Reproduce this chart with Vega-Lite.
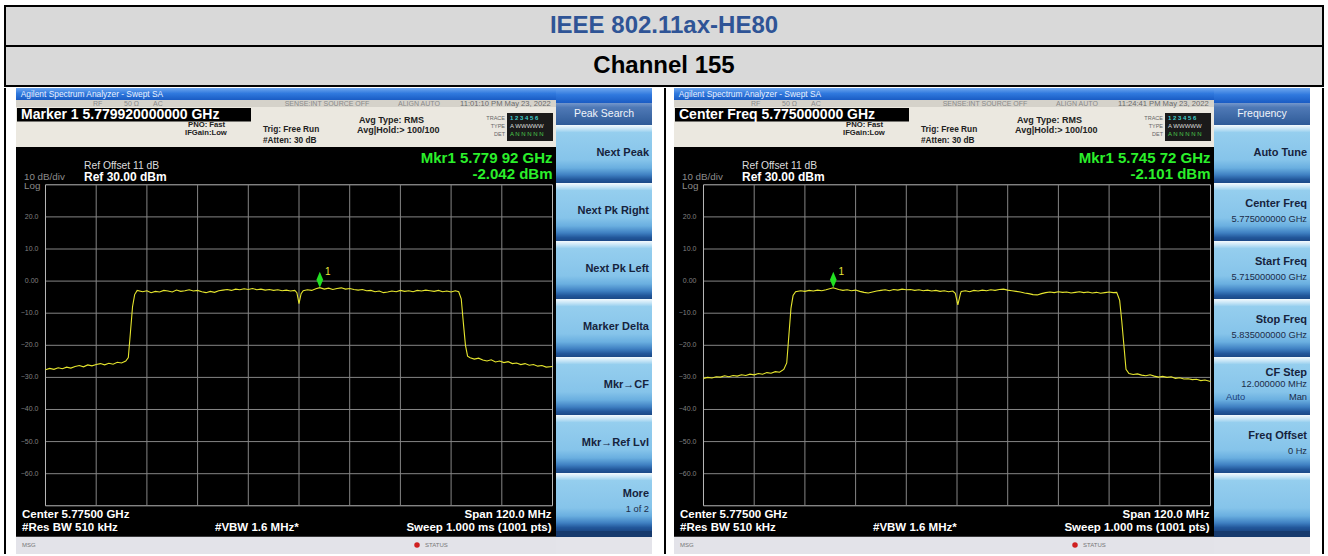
{
"$schema":"https://vega.github.io/schema/vega-lite/v6.json",
"padding":{"left":4,"top":5,"right":4,"bottom":2},
"background":"#ffffff",
"bounds":"full",
"spacing":1,
"config":{"font":"Liberation Sans","axis":{"disable":true},"legend":{"disable":true},"view":{"stroke":null}},
"datasets":{
"header":[{"table":"report","row":"IEEE 802.11ax-HE80","kind":"standard"},{"table":"report","row":"Channel 155","kind":"channel"}],
"infoL":[{"analyzer":"Agilent Spectrum Analyzer - Swept SA","readout":"Marker 1 5.779920000000 GHz","mkr_freq":"Mkr1 5.779 92 GHz","mkr_level":"-2.042 dBm","time":"11:01:10 PM May 23, 2022","center":"Center 5.77500 GHz","span":"Span 120.0 MHz","rbw":"#Res BW 510 kHz","vbw":"#VBW 1.6 MHz*","sweep":"Sweep  1.000 ms (1001 pts)","ref_offset":"Ref Offset 11 dB","ref_level":"Ref 30.00 dBm","scale":"10 dB/div","log":"Log"}],
"infoR":[{"analyzer":"Agilent Spectrum Analyzer - Swept SA","readout":"Center Freq 5.775000000 GHz","mkr_freq":"Mkr1 5.745 72 GHz","mkr_level":"-2.101 dBm","time":"11:24:41 PM May 23, 2022","center":"Center 5.77500 GHz","span":"Span 120.0 MHz","rbw":"#Res BW 510 kHz","vbw":"#VBW 1.6 MHz*","sweep":"Sweep  1.000 ms (1001 pts)","ref_offset":"Ref Offset 11 dB","ref_level":"Ref 30.00 dBm","scale":"10 dB/div","log":"Log"}],
"markerL":[{"f":5.77992,"p":-2.042,"n":"1"}],
"markerR":[{"f":5.74572,"p":-2.101,"n":"1"}],
"hgrid":[{"level":30},{"level":20},{"level":10},{"level":0},{"level":-10},{"level":-20},{"level":-30},{"level":-40},{"level":-50},{"level":-60},{"level":-70}],
"vgrid":[{"freq":5.715},{"freq":5.727},{"freq":5.739},{"freq":5.751},{"freq":5.763},{"freq":5.775},{"freq":5.787},{"freq":5.799},{"freq":5.811},{"freq":5.823},{"freq":5.835}],
"menuL":[{"menu":"Peak Search"}],
"menuR":[{"menu":"Frequency"}],
"keysL":[{"key":"Next Peak"},{"key":"Next Pk Right"},{"key":"Next Pk Left"},{"key":"Marker Delta"},{"key":"Mkr→CF"},{"key":"Mkr→Ref Lvl"},{"key":"More","sub":"1 of 2"}],
"keysR":[{"key":"Auto Tune"},{"key":"Center Freq","sub":"5.775000000 GHz"},{"key":"Start Freq","sub":"5.715000000 GHz"},{"key":"Stop Freq","sub":"5.835000000 GHz"},{"key":"CF Step","sub":"12.000000 MHz","opt":"Auto","opt2":"Man"},{"key":"Freq Offset","sub":"0 Hz"},{"key":" "}],
"traceL":[{"f":5.715,"p":-27.6},{"f":5.716,"p":-27.2},{"f":5.717,"p":-27.5},{"f":5.718,"p":-27.0},{"f":5.719,"p":-27.3},{"f":5.72,"p":-26.8},{"f":5.721,"p":-27.1},{"f":5.722,"p":-26.6},{"f":5.723,"p":-26.3},{"f":5.724,"p":-26.7},{"f":5.725,"p":-26.1},{"f":5.726,"p":-26.4},{"f":5.727,"p":-26.0},{"f":5.728,"p":-25.7},{"f":5.729,"p":-26.1},{"f":5.73,"p":-25.6},{"f":5.731,"p":-25.9},{"f":5.732,"p":-25.3},{"f":5.733,"p":-25.5},{"f":5.734,"p":-24.9},{"f":5.7346,"p":-23.8},{"f":5.7351,"p":-16.0},{"f":5.7356,"p":-8.0},{"f":5.7361,"p":-4.2},{"f":5.7367,"p":-2.9},{"f":5.738,"p":-3.3},{"f":5.739,"p":-3.0},{"f":5.74,"p":-3.6},{"f":5.741,"p":-3.2},{"f":5.742,"p":-3.4},{"f":5.743,"p":-2.9},{"f":5.744,"p":-3.1},{"f":5.745,"p":-3.4},{"f":5.746,"p":-2.8},{"f":5.747,"p":-3.2},{"f":5.748,"p":-3.0},{"f":5.749,"p":-2.7},{"f":5.75,"p":-3.1},{"f":5.751,"p":-2.9},{"f":5.752,"p":-3.3},{"f":5.753,"p":-3.6},{"f":5.754,"p":-3.2},{"f":5.755,"p":-3.5},{"f":5.756,"p":-3.0},{"f":5.757,"p":-2.8},{"f":5.758,"p":-2.6},{"f":5.759,"p":-2.9},{"f":5.76,"p":-2.5},{"f":5.761,"p":-2.7},{"f":5.762,"p":-2.4},{"f":5.763,"p":-2.6},{"f":5.764,"p":-2.3},{"f":5.765,"p":-2.7},{"f":5.766,"p":-2.5},{"f":5.767,"p":-2.8},{"f":5.768,"p":-2.6},{"f":5.769,"p":-2.9},{"f":5.77,"p":-2.7},{"f":5.771,"p":-3.0},{"f":5.772,"p":-2.8},{"f":5.773,"p":-3.1},{"f":5.774,"p":-2.9},{"f":5.7745,"p":-3.6},{"f":5.775,"p":-7.0},{"f":5.7755,"p":-3.9},{"f":5.776,"p":-3.0},{"f":5.777,"p":-2.7},{"f":5.778,"p":-2.9},{"f":5.779,"p":-2.4},{"f":5.7799,"p":-2.04},{"f":5.781,"p":-2.5},{"f":5.782,"p":-2.2},{"f":5.783,"p":-2.6},{"f":5.784,"p":-2.3},{"f":5.785,"p":-2.1},{"f":5.786,"p":-2.5},{"f":5.787,"p":-2.3},{"f":5.788,"p":-2.6},{"f":5.789,"p":-2.8},{"f":5.79,"p":-2.6},{"f":5.791,"p":-3.0},{"f":5.792,"p":-2.9},{"f":5.793,"p":-3.3},{"f":5.794,"p":-3.1},{"f":5.795,"p":-3.6},{"f":5.796,"p":-3.4},{"f":5.797,"p":-3.1},{"f":5.798,"p":-3.3},{"f":5.799,"p":-2.9},{"f":5.8,"p":-3.2},{"f":5.801,"p":-3.0},{"f":5.802,"p":-3.3},{"f":5.803,"p":-2.9},{"f":5.804,"p":-3.1},{"f":5.805,"p":-2.8},{"f":5.806,"p":-3.0},{"f":5.807,"p":-3.2},{"f":5.808,"p":-2.9},{"f":5.809,"p":-3.3},{"f":5.81,"p":-3.1},{"f":5.811,"p":-3.4},{"f":5.812,"p":-3.0},{"f":5.8128,"p":-3.3},{"f":5.8134,"p":-5.5},{"f":5.8139,"p":-13.0},{"f":5.8144,"p":-20.0},{"f":5.8149,"p":-23.4},{"f":5.8155,"p":-23.9},{"f":5.8165,"p":-24.3},{"f":5.8175,"p":-24.0},{"f":5.8185,"p":-24.6},{"f":5.8195,"p":-24.9},{"f":5.8205,"p":-24.5},{"f":5.8215,"p":-25.2},{"f":5.8225,"p":-24.9},{"f":5.8235,"p":-25.4},{"f":5.8245,"p":-25.1},{"f":5.8255,"p":-25.7},{"f":5.8265,"p":-25.5},{"f":5.8275,"p":-26.0},{"f":5.8285,"p":-25.7},{"f":5.8295,"p":-26.2},{"f":5.8305,"p":-26.0},{"f":5.8315,"p":-26.5},{"f":5.8325,"p":-26.3},{"f":5.8335,"p":-26.8},{"f":5.835,"p":-26.6}],
"traceR":[{"f":5.715,"p":-30.3},{"f":5.716,"p":-30.0},{"f":5.717,"p":-30.2},{"f":5.718,"p":-29.8},{"f":5.719,"p":-29.9},{"f":5.72,"p":-29.5},{"f":5.721,"p":-29.8},{"f":5.722,"p":-29.4},{"f":5.723,"p":-29.6},{"f":5.724,"p":-29.2},{"f":5.725,"p":-29.4},{"f":5.726,"p":-29.0},{"f":5.727,"p":-29.2},{"f":5.728,"p":-28.8},{"f":5.729,"p":-29.0},{"f":5.73,"p":-28.5},{"f":5.731,"p":-28.7},{"f":5.732,"p":-28.2},{"f":5.733,"p":-28.4},{"f":5.734,"p":-27.5},{"f":5.7347,"p":-25.5},{"f":5.7352,"p":-17.0},{"f":5.7357,"p":-8.5},{"f":5.7362,"p":-4.5},{"f":5.7368,"p":-3.3},{"f":5.738,"p":-3.0},{"f":5.739,"p":-3.2},{"f":5.74,"p":-2.9},{"f":5.741,"p":-3.1},{"f":5.742,"p":-2.8},{"f":5.743,"p":-3.0},{"f":5.744,"p":-2.7},{"f":5.7457,"p":-2.1},{"f":5.747,"p":-2.6},{"f":5.748,"p":-2.9},{"f":5.749,"p":-2.7},{"f":5.75,"p":-3.0},{"f":5.751,"p":-2.8},{"f":5.752,"p":-3.2},{"f":5.753,"p":-3.5},{"f":5.754,"p":-3.7},{"f":5.755,"p":-3.4},{"f":5.756,"p":-3.1},{"f":5.757,"p":-2.9},{"f":5.758,"p":-2.7},{"f":5.759,"p":-3.0},{"f":5.76,"p":-2.6},{"f":5.761,"p":-2.8},{"f":5.762,"p":-2.5},{"f":5.763,"p":-2.7},{"f":5.764,"p":-2.6},{"f":5.765,"p":-2.9},{"f":5.766,"p":-2.7},{"f":5.767,"p":-3.0},{"f":5.768,"p":-2.8},{"f":5.769,"p":-3.1},{"f":5.77,"p":-2.9},{"f":5.771,"p":-3.2},{"f":5.772,"p":-3.0},{"f":5.773,"p":-3.3},{"f":5.774,"p":-3.1},{"f":5.7746,"p":-3.8},{"f":5.7752,"p":-7.4},{"f":5.7758,"p":-4.0},{"f":5.776,"p":-3.2},{"f":5.777,"p":-3.0},{"f":5.778,"p":-3.3},{"f":5.779,"p":-2.9},{"f":5.78,"p":-3.1},{"f":5.781,"p":-2.8},{"f":5.782,"p":-3.0},{"f":5.783,"p":-2.7},{"f":5.784,"p":-2.9},{"f":5.785,"p":-2.6},{"f":5.786,"p":-2.5},{"f":5.787,"p":-2.8},{"f":5.788,"p":-3.0},{"f":5.789,"p":-3.2},{"f":5.79,"p":-3.4},{"f":5.791,"p":-3.7},{"f":5.792,"p":-3.9},{"f":5.793,"p":-4.2},{"f":5.794,"p":-4.3},{"f":5.795,"p":-3.9},{"f":5.796,"p":-3.6},{"f":5.797,"p":-3.4},{"f":5.798,"p":-3.6},{"f":5.799,"p":-3.3},{"f":5.8,"p":-3.5},{"f":5.801,"p":-3.4},{"f":5.802,"p":-3.7},{"f":5.803,"p":-3.5},{"f":5.804,"p":-3.3},{"f":5.805,"p":-3.6},{"f":5.806,"p":-3.4},{"f":5.807,"p":-3.7},{"f":5.808,"p":-3.5},{"f":5.809,"p":-3.8},{"f":5.81,"p":-3.6},{"f":5.811,"p":-3.4},{"f":5.812,"p":-3.6},{"f":5.8128,"p":-3.5},{"f":5.8135,"p":-6.0},{"f":5.814,"p":-12.5},{"f":5.8145,"p":-20.0},{"f":5.815,"p":-27.5},{"f":5.8157,"p":-28.8},{"f":5.8167,"p":-29.1},{"f":5.8177,"p":-28.9},{"f":5.8187,"p":-29.3},{"f":5.8197,"p":-29.5},{"f":5.8207,"p":-29.2},{"f":5.8217,"p":-29.6},{"f":5.8227,"p":-29.9},{"f":5.8237,"p":-29.7},{"f":5.8247,"p":-30.0},{"f":5.8257,"p":-29.8},{"f":5.8267,"p":-30.3},{"f":5.8277,"p":-30.1},{"f":5.8287,"p":-30.5},{"f":5.8297,"p":-30.4},{"f":5.8307,"p":-30.7},{"f":5.8317,"p":-30.6},{"f":5.8327,"p":-31.0},{"f":5.8337,"p":-30.8},{"f":5.835,"p":-31.3}]
},
"vconcat":[
{"width":1320,"height":82,"view":{"fill":"#000000","stroke":null},"data":{"name":"header"},
 "encoding":{"x":{"field":"table","type":"nominal","scale":{"paddingOuter":0.00152,"paddingInner":0}},"y":{"field":"row","type":"nominal","sort":null,"scale":{"paddingInner":0.05,"paddingOuter":0.05}}},
 "layer":[
  {"mark":{"type":"rect","fill":"#d9d9d9"}},
  {"mark":{"type":"text","fontSize":24,"fontWeight":"bold","baseline":"middle"},"encoding":{"text":{"field":"row"},"color":{"field":"kind","type":"nominal","scale":{"domain":["standard","channel"],"range":["#2f5496","#000000"]}}}}
 ]},
{"hconcat":[
 {"width":2,"height":466,"data":{"values":[{"border":"table"}]},"mark":{"type":"rect","fill":"#000000"}},
 {"width":10,"height":466,"data":{"values":[{"border":"margin"}]},"mark":{"type":"rect","fill":"#ffffff"}},
 {"width":540,"height":466,"view":{"fill":"#000000","stroke":null},"data":{"name":"infoL"},
  "layer":[
   {"data":{"name":"hgrid"},"mark":{"type":"rule","strokeWidth":1},"encoding":{"y":{"field":"level","type":"quantitative"},"x":{"datum":5.715},"x2":{"datum":5.835},"color":{"condition":{"test":"datum.level === 30 || datum.level === -70","value":"#b8b8b8"},"value":"#858585"}}},
   {"data":{"name":"vgrid"},"mark":{"type":"rule","strokeWidth":1},"encoding":{"x":{"field":"freq","type":"quantitative"},"y":{"datum":-70},"y2":{"datum":30},"color":{"condition":{"test":"datum.freq < 5.716 || datum.freq > 5.834","value":"#b8b8b8"},"value":"#858585"}}},
   {"data":{"name":"hgrid"},"transform":[{"filter":"datum.level < 30 && datum.level > -70"}],"mark":{"type":"text","align":"right","baseline":"middle","fontSize":7,"color":"#808080"},"encoding":{"x":{"datum":5.713343},"y":{"field":"level","type":"quantitative"},"text":{"condition":{"test":"datum.level === 0","value":"0.00"},"field":"level","type":"quantitative","format":".1f"}}},
   {"data":{"name":"traceL"},"mark":{"type":"line","color":"#e6e62e","strokeWidth":1.1},"encoding":{"x":{"field":"f","type":"quantitative","scale":{"domain":[5.708018,5.835828],"nice":false,"zero":false}},"y":{"field":"p","type":"quantitative","scale":{"domain":[-85.02,60.16],"nice":false,"zero":false}}}},
   {"data":{"name":"markerL"},"mark":{"type":"point","shape":"M0,-2L0.42,-1L0,0L-0.42,-1Z","size":256,"filled":true,"color":"#22e022","opacity":1},"encoding":{"x":{"field":"f","type":"quantitative"},"y":{"field":"p","type":"quantitative"}}},
   {"data":{"name":"markerL"},"mark":{"type":"text","dx":8,"dy":-16,"fontSize":10,"color":"#e8e83a","baseline":"middle"},"encoding":{"x":{"field":"f","type":"quantitative"},"y":{"field":"p","type":"quantitative"},"text":{"field":"n"}}},
   {"mark":{"type":"rect","fill":{"gradient":"linear","x1":0,"y1":0,"x2":0,"y2":1,"stops":[{"offset":0,"color":"#6ea6ee"},{"offset":0.45,"color":"#3079de"},{"offset":1,"color":"#1a5cc4"}]}},"encoding":{"x":{"datum":5.708018},"x2":{"datum":5.835828},"y":{"datum":56.42},"y2":{"datum":60.16}}},
   {"mark":{"type":"rect","fill":"#d5d2ca"},"encoding":{"x":{"datum":5.708018},"x2":{"datum":5.835828},"y":{"datum":54.24},"y2":{"datum":56.42}}},
   {"mark":{"type":"rect","fill":"#ebe8e0"},"encoding":{"x":{"datum":5.708018},"x2":{"datum":5.835828},"y":{"datum":41.78},"y2":{"datum":54.24}}},
   {"mark":{"type":"rect","fill":"#e3e3e9"},"encoding":{"x":{"datum":5.708018},"x2":{"datum":5.835828},"y":{"datum":-85.02},"y2":{"datum":-79.62}}},
   {"mark":{"type":"rect","fill":"#000000"},"encoding":{"x":{"datum":5.708255},"x2":{"datum":5.763639},"y":{"datum":49.72},"y2":{"datum":53.93}}},
   {"mark":{"type":"rect","fill":"#1a1a1a"},"encoding":{"x":{"datum":5.824231},"x2":{"datum":5.835119},"y":{"datum":43.65},"y2":{"datum":52.37}}},
   {"mark":{"type":"text","align":"left","baseline":"middle","fontSize":8.4,"color":"#eaf1ff"},"encoding":{"x":{"datum":5.70913},"y":{"datum":58.29},"text":{"field":"analyzer"}}},
   {"mark":{"type":"text","align":"left","baseline":"middle","fontSize":7,"color":"#8a8a8a"},"encoding":{"x":{"datum":5.726243},"y":{"datum":55.33},"text":{"value":"RF"}}},
   {"mark":{"type":"text","align":"left","baseline":"middle","fontSize":7,"color":"#8a8a8a"},"encoding":{"x":{"datum":5.73358},"y":{"datum":55.33},"text":{"value":"50 Ω"}}},
   {"mark":{"type":"text","align":"left","baseline":"middle","fontSize":7,"color":"#8a8a8a"},"encoding":{"x":{"datum":5.740444},"y":{"datum":55.33},"text":{"value":"AC"}}},
   {"mark":{"type":"text","align":"left","baseline":"middle","fontSize":7,"color":"#8a8a8a"},"encoding":{"x":{"datum":5.771616},"y":{"datum":55.33},"text":{"value":"SENSE:INT  SOURCE OFF"}}},
   {"mark":{"type":"text","align":"left","baseline":"middle","fontSize":7,"color":"#8a8a8a"},"encoding":{"x":{"datum":5.798432},"y":{"datum":55.33},"text":{"value":"ALIGN AUTO"}}},
   {"mark":{"type":"text","align":"left","baseline":"middle","fontSize":7.6,"color":"#6a6a6a"},"encoding":{"x":{"datum":5.813107},"y":{"datum":55.33},"text":{"field":"time"}}},
   {"mark":{"type":"text","align":"left","baseline":"middle","fontSize":14,"fontWeight":"bold","color":"#ffffff"},"encoding":{"x":{"datum":5.709201},"y":{"datum":51.75},"text":{"field":"readout"}}},
   {"mark":{"type":"text","align":"left","baseline":"middle","fontSize":7.7,"fontWeight":"bold","color":"#222222"},"encoding":{"x":{"datum":5.748728},"y":{"datum":48.5},"text":{"value":"PNO: Fast"}}},
   {"mark":{"type":"text","align":"left","baseline":"middle","fontSize":7.7,"fontWeight":"bold","color":"#222222"},"encoding":{"x":{"datum":5.748018},"y":{"datum":46.0},"text":{"value":"IFGain:Low"}}},
   {"mark":{"type":"text","align":"left","baseline":"middle","fontSize":8.3,"fontWeight":"bold","color":"#222222"},"encoding":{"x":{"datum":5.76648},"y":{"datum":46.92},"text":{"value":"Trig: Free Run"}}},
   {"mark":{"type":"text","align":"left","baseline":"middle","fontSize":8.3,"fontWeight":"bold","color":"#222222"},"encoding":{"x":{"datum":5.76648},"y":{"datum":43.8},"text":{"value":"#Atten: 30 dB"}}},
   {"mark":{"type":"text","align":"left","baseline":"middle","fontSize":9,"fontWeight":"bold","color":"#222222"},"encoding":{"x":{"datum":5.789201},"y":{"datum":50.19},"text":{"value":"Avg Type: RMS"}}},
   {"mark":{"type":"text","align":"left","baseline":"middle","fontSize":9,"fontWeight":"bold","color":"#222222"},"encoding":{"x":{"datum":5.788728},"y":{"datum":47.08},"text":{"value":"Avg|Hold:> 100/100"}}},
   {"mark":{"type":"text","align":"right","baseline":"middle","fontSize":5.5,"color":"#666666"},"encoding":{"x":{"datum":5.823758},"y":{"datum":50.81},"text":{"value":"TRACE"}}},
   {"mark":{"type":"text","align":"right","baseline":"middle","fontSize":5.5,"color":"#666666"},"encoding":{"x":{"datum":5.823758},"y":{"datum":48.32},"text":{"value":"TYPE"}}},
   {"mark":{"type":"text","align":"right","baseline":"middle","fontSize":5.5,"color":"#666666"},"encoding":{"x":{"datum":5.823758},"y":{"datum":45.83},"text":{"value":"DET"}}},
   {"mark":{"type":"text","align":"left","baseline":"middle","fontSize":6,"fontWeight":"bold","color":"#3fd0d0"},"encoding":{"x":{"datum":5.824941},"y":{"datum":50.81},"text":{"value":"1 2 3 4 5 6"}}},
   {"mark":{"type":"text","align":"left","baseline":"middle","fontSize":6,"color":"#dddddd"},"encoding":{"x":{"datum":5.824941},"y":{"datum":48.32},"text":{"value":"A WWWWW"}}},
   {"mark":{"type":"text","align":"left","baseline":"middle","fontSize":6,"color":"#4ccc4c"},"encoding":{"x":{"datum":5.824941},"y":{"datum":45.83},"text":{"value":"A N N N N N"}}},
   {"mark":{"type":"text","align":"left","baseline":"middle","fontSize":10.3,"color":"#dcdcdc"},"encoding":{"x":{"datum":5.724113},"y":{"datum":35.86},"text":{"field":"ref_offset"}}},
   {"mark":{"type":"text","align":"left","baseline":"middle","fontSize":12,"fontWeight":"bold","color":"#ffffff"},"encoding":{"x":{"datum":5.724113},"y":{"datum":32.43},"text":{"field":"ref_level"}}},
   {"mark":{"type":"text","align":"left","baseline":"middle","fontSize":9.8,"color":"#8c8c8c"},"encoding":{"x":{"datum":5.709911},"y":{"datum":32.28},"text":{"field":"scale"}}},
   {"mark":{"type":"text","align":"left","baseline":"middle","fontSize":9.8,"color":"#8c8c8c"},"encoding":{"x":{"datum":5.709911},"y":{"datum":29.63},"text":{"field":"log"}}},
   {"mark":{"type":"text","align":"right","baseline":"middle","fontSize":15,"fontWeight":"bold","color":"#2bef2b"},"encoding":{"x":{"datum":5.835},"y":{"datum":38.35},"text":{"field":"mkr_freq"}}},
   {"mark":{"type":"text","align":"right","baseline":"middle","fontSize":15,"fontWeight":"bold","color":"#2bef2b"},"encoding":{"x":{"datum":5.835},"y":{"datum":33.37},"text":{"field":"mkr_level"}}},
   {"mark":{"type":"text","align":"left","baseline":"middle","fontSize":11.5,"fontWeight":"bold","color":"#ffffff"},"encoding":{"x":{"datum":5.709438},"y":{"datum":-72.86},"text":{"field":"center"}}},
   {"mark":{"type":"text","align":"left","baseline":"middle","fontSize":11.5,"fontWeight":"bold","color":"#ffffff"},"encoding":{"x":{"datum":5.709438},"y":{"datum":-76.86},"text":{"field":"rbw"}}},
   {"mark":{"type":"text","align":"left","baseline":"middle","fontSize":11.5,"fontWeight":"bold","color":"#ffffff"},"encoding":{"x":{"datum":5.755119},"y":{"datum":-76.86},"text":{"field":"vbw"}}},
   {"mark":{"type":"text","align":"right","baseline":"middle","fontSize":11.5,"fontWeight":"bold","color":"#ffffff"},"encoding":{"x":{"datum":5.834764},"y":{"datum":-72.86},"text":{"field":"span"}}},
   {"mark":{"type":"text","align":"right","baseline":"middle","fontSize":11.5,"fontWeight":"bold","color":"#ffffff"},"encoding":{"x":{"datum":5.834764},"y":{"datum":-76.86},"text":{"field":"sweep"}}},
   {"mark":{"type":"text","align":"left","baseline":"middle","fontSize":6,"color":"#777777"},"encoding":{"x":{"datum":5.709438},"y":{"datum":-82.21},"text":{"value":"MSG"}}},
   {"mark":{"type":"point","shape":"circle","size":30,"filled":true,"color":"#d02020","opacity":1},"encoding":{"x":{"datum":5.802929},"y":{"datum":-82.21}}},
   {"mark":{"type":"text","align":"left","baseline":"middle","fontSize":6,"color":"#777777"},"encoding":{"x":{"datum":5.804823},"y":{"datum":-82.21},"text":{"value":"STATUS"}}}
  ]},
 {"vconcat":[
  {"width":96,"height":15,"data":{"name":"menuL"},"mark":{"type":"rect","fill":{"gradient":"linear","x1":0,"y1":0,"x2":0,"y2":1,"stops":[{"offset":0,"color":"#6ea6ee"},{"offset":0.45,"color":"#3079de"},{"offset":1,"color":"#1a5cc4"}]}}},
  {"width":96,"height":22,"data":{"name":"menuL"},"layer":[
   {"mark":{"type":"rect","fill":{"gradient":"linear","x1":0,"y1":0,"x2":0,"y2":1,"stops":[{"offset":0,"color":"#7497cc"},{"offset":0.2,"color":"#4f79b6"},{"offset":1,"color":"#2f5b98"}]}}},
   {"mark":{"type":"text","color":"#f0f4fa","fontSize":10.5,"baseline":"middle"},"encoding":{"text":{"field":"menu"}}}
  ]},
  {"width":96,"height":406,"data":{"name":"keysL"},
   "encoding":{"y":{"field":"key","type":"nominal","sort":null,"scale":{"paddingInner":0,"paddingOuter":0}}},
   "layer":[
    {"mark":{"type":"rect","fill":{"gradient":"linear","x1":0,"y1":0,"x2":0,"y2":1,"stops":[{"offset":0,"color":"#f4fafd"},{"offset":0.07,"color":"#c4e4f6"},{"offset":0.13,"color":"#95ceee"},{"offset":0.6,"color":"#86c4ea"},{"offset":0.74,"color":"#6aafe0"},{"offset":0.86,"color":"#3f80c2"},{"offset":0.94,"color":"#22579b"},{"offset":1,"color":"#1b4886"}]}},"encoding":{"x":{"datum":0,"type":"quantitative","scale":{"domain":[0,1],"nice":false,"zero":false}},"x2":{"datum":1}}},
    {"mark":{"type":"text","align":"right","baseline":"middle","fontWeight":"bold","fontSize":11,"color":"#16233d","dx":-3,"dy":-1},"encoding":{"x":{"datum":1,"type":"quantitative"},"text":{"condition":{"test":"!datum.sub","field":"key"},"value":""}}},
    {"mark":{"type":"text","align":"right","baseline":"middle","fontWeight":"bold","fontSize":11,"color":"#16233d","dx":-3,"dy":-8.5},"encoding":{"x":{"datum":1,"type":"quantitative"},"text":{"condition":{"test":"datum.sub && !datum.opt","field":"key"},"value":""}}},
    {"mark":{"type":"text","align":"right","baseline":"middle","fontSize":9.3,"color":"#1b2b48","dx":-3,"dy":7},"encoding":{"x":{"datum":1,"type":"quantitative"},"text":{"condition":{"test":"datum.sub && !datum.opt","field":"sub"},"value":""}}}
   ]},
  {"width":96,"height":23,"data":{"name":"menuL"},"mark":{"type":"rect","fill":{"gradient":"linear","x1":0,"y1":0,"x2":0,"y2":1,"stops":[{"offset":0,"color":"#163a6e"},{"offset":0.26,"color":"#163a6e"},{"offset":0.27,"color":"#e4e4ea"},{"offset":1,"color":"#e4e4ea"}]}}}
 ],"spacing":0,"bounds":"flush"},
 {"width":12,"height":466,"data":{"values":[{"border":"margin"}]},"mark":{"type":"rect","fill":"#ffffff"}},
 {"width":2,"height":466,"data":{"values":[{"border":"table"}]},"mark":{"type":"rect","fill":"#000000"}},
 {"width":8,"height":466,"data":{"values":[{"border":"margin"}]},"mark":{"type":"rect","fill":"#ffffff"}},
 {"width":540,"height":466,"view":{"fill":"#000000","stroke":null},"data":{"name":"infoR"},
  "layer":[
   {"data":{"name":"hgrid"},"mark":{"type":"rule","strokeWidth":1},"encoding":{"y":{"field":"level","type":"quantitative"},"x":{"datum":5.715},"x2":{"datum":5.835},"color":{"condition":{"test":"datum.level === 30 || datum.level === -70","value":"#b8b8b8"},"value":"#858585"}}},
   {"data":{"name":"vgrid"},"mark":{"type":"rule","strokeWidth":1},"encoding":{"x":{"field":"freq","type":"quantitative"},"y":{"datum":-70},"y2":{"datum":30},"color":{"condition":{"test":"datum.freq < 5.716 || datum.freq > 5.834","value":"#b8b8b8"},"value":"#858585"}}},
   {"data":{"name":"hgrid"},"transform":[{"filter":"datum.level < 30 && datum.level > -70"}],"mark":{"type":"text","align":"right","baseline":"middle","fontSize":7,"color":"#808080"},"encoding":{"x":{"datum":5.713343},"y":{"field":"level","type":"quantitative"},"text":{"condition":{"test":"datum.level === 0","value":"0.00"},"field":"level","type":"quantitative","format":".1f"}}},
   {"data":{"name":"traceR"},"mark":{"type":"line","color":"#e6e62e","strokeWidth":1.1},"encoding":{"x":{"field":"f","type":"quantitative","scale":{"domain":[5.708018,5.835828],"nice":false,"zero":false}},"y":{"field":"p","type":"quantitative","scale":{"domain":[-85.02,60.16],"nice":false,"zero":false}}}},
   {"data":{"name":"markerR"},"mark":{"type":"point","shape":"M0,-2L0.42,-1L0,0L-0.42,-1Z","size":256,"filled":true,"color":"#22e022","opacity":1},"encoding":{"x":{"field":"f","type":"quantitative"},"y":{"field":"p","type":"quantitative"}}},
   {"data":{"name":"markerR"},"mark":{"type":"text","dx":8,"dy":-16,"fontSize":10,"color":"#e8e83a","baseline":"middle"},"encoding":{"x":{"field":"f","type":"quantitative"},"y":{"field":"p","type":"quantitative"},"text":{"field":"n"}}},
   {"mark":{"type":"rect","fill":{"gradient":"linear","x1":0,"y1":0,"x2":0,"y2":1,"stops":[{"offset":0,"color":"#6ea6ee"},{"offset":0.45,"color":"#3079de"},{"offset":1,"color":"#1a5cc4"}]}},"encoding":{"x":{"datum":5.708018},"x2":{"datum":5.835828},"y":{"datum":56.42},"y2":{"datum":60.16}}},
   {"mark":{"type":"rect","fill":"#d5d2ca"},"encoding":{"x":{"datum":5.708018},"x2":{"datum":5.835828},"y":{"datum":54.24},"y2":{"datum":56.42}}},
   {"mark":{"type":"rect","fill":"#ebe8e0"},"encoding":{"x":{"datum":5.708018},"x2":{"datum":5.835828},"y":{"datum":41.78},"y2":{"datum":54.24}}},
   {"mark":{"type":"rect","fill":"#e3e3e9"},"encoding":{"x":{"datum":5.708018},"x2":{"datum":5.835828},"y":{"datum":-85.02},"y2":{"datum":-79.62}}},
   {"mark":{"type":"rect","fill":"#000000"},"encoding":{"x":{"datum":5.708255},"x2":{"datum":5.763639},"y":{"datum":49.72},"y2":{"datum":53.93}}},
   {"mark":{"type":"rect","fill":"#1a1a1a"},"encoding":{"x":{"datum":5.824231},"x2":{"datum":5.835119},"y":{"datum":43.65},"y2":{"datum":52.37}}},
   {"mark":{"type":"text","align":"left","baseline":"middle","fontSize":8.4,"color":"#eaf1ff"},"encoding":{"x":{"datum":5.70913},"y":{"datum":58.29},"text":{"field":"analyzer"}}},
   {"mark":{"type":"text","align":"left","baseline":"middle","fontSize":7,"color":"#8a8a8a"},"encoding":{"x":{"datum":5.726243},"y":{"datum":55.33},"text":{"value":"RF"}}},
   {"mark":{"type":"text","align":"left","baseline":"middle","fontSize":7,"color":"#8a8a8a"},"encoding":{"x":{"datum":5.73358},"y":{"datum":55.33},"text":{"value":"50 Ω"}}},
   {"mark":{"type":"text","align":"left","baseline":"middle","fontSize":7,"color":"#8a8a8a"},"encoding":{"x":{"datum":5.740444},"y":{"datum":55.33},"text":{"value":"AC"}}},
   {"mark":{"type":"text","align":"left","baseline":"middle","fontSize":7,"color":"#8a8a8a"},"encoding":{"x":{"datum":5.771616},"y":{"datum":55.33},"text":{"value":"SENSE:INT  SOURCE OFF"}}},
   {"mark":{"type":"text","align":"left","baseline":"middle","fontSize":7,"color":"#8a8a8a"},"encoding":{"x":{"datum":5.798432},"y":{"datum":55.33},"text":{"value":"ALIGN AUTO"}}},
   {"mark":{"type":"text","align":"left","baseline":"middle","fontSize":7.6,"color":"#6a6a6a"},"encoding":{"x":{"datum":5.813107},"y":{"datum":55.33},"text":{"field":"time"}}},
   {"mark":{"type":"text","align":"left","baseline":"middle","fontSize":14,"fontWeight":"bold","color":"#ffffff"},"encoding":{"x":{"datum":5.709201},"y":{"datum":51.75},"text":{"field":"readout"}}},
   {"mark":{"type":"text","align":"left","baseline":"middle","fontSize":7.7,"fontWeight":"bold","color":"#222222"},"encoding":{"x":{"datum":5.748728},"y":{"datum":48.5},"text":{"value":"PNO: Fast"}}},
   {"mark":{"type":"text","align":"left","baseline":"middle","fontSize":7.7,"fontWeight":"bold","color":"#222222"},"encoding":{"x":{"datum":5.748018},"y":{"datum":46.0},"text":{"value":"IFGain:Low"}}},
   {"mark":{"type":"text","align":"left","baseline":"middle","fontSize":8.3,"fontWeight":"bold","color":"#222222"},"encoding":{"x":{"datum":5.76648},"y":{"datum":46.92},"text":{"value":"Trig: Free Run"}}},
   {"mark":{"type":"text","align":"left","baseline":"middle","fontSize":8.3,"fontWeight":"bold","color":"#222222"},"encoding":{"x":{"datum":5.76648},"y":{"datum":43.8},"text":{"value":"#Atten: 30 dB"}}},
   {"mark":{"type":"text","align":"left","baseline":"middle","fontSize":9,"fontWeight":"bold","color":"#222222"},"encoding":{"x":{"datum":5.789201},"y":{"datum":50.19},"text":{"value":"Avg Type: RMS"}}},
   {"mark":{"type":"text","align":"left","baseline":"middle","fontSize":9,"fontWeight":"bold","color":"#222222"},"encoding":{"x":{"datum":5.788728},"y":{"datum":47.08},"text":{"value":"Avg|Hold:> 100/100"}}},
   {"mark":{"type":"text","align":"right","baseline":"middle","fontSize":5.5,"color":"#666666"},"encoding":{"x":{"datum":5.823758},"y":{"datum":50.81},"text":{"value":"TRACE"}}},
   {"mark":{"type":"text","align":"right","baseline":"middle","fontSize":5.5,"color":"#666666"},"encoding":{"x":{"datum":5.823758},"y":{"datum":48.32},"text":{"value":"TYPE"}}},
   {"mark":{"type":"text","align":"right","baseline":"middle","fontSize":5.5,"color":"#666666"},"encoding":{"x":{"datum":5.823758},"y":{"datum":45.83},"text":{"value":"DET"}}},
   {"mark":{"type":"text","align":"left","baseline":"middle","fontSize":6,"fontWeight":"bold","color":"#3fd0d0"},"encoding":{"x":{"datum":5.824941},"y":{"datum":50.81},"text":{"value":"1 2 3 4 5 6"}}},
   {"mark":{"type":"text","align":"left","baseline":"middle","fontSize":6,"color":"#dddddd"},"encoding":{"x":{"datum":5.824941},"y":{"datum":48.32},"text":{"value":"A WWWWW"}}},
   {"mark":{"type":"text","align":"left","baseline":"middle","fontSize":6,"color":"#4ccc4c"},"encoding":{"x":{"datum":5.824941},"y":{"datum":45.83},"text":{"value":"A N N N N N"}}},
   {"mark":{"type":"text","align":"left","baseline":"middle","fontSize":10.3,"color":"#dcdcdc"},"encoding":{"x":{"datum":5.724113},"y":{"datum":35.86},"text":{"field":"ref_offset"}}},
   {"mark":{"type":"text","align":"left","baseline":"middle","fontSize":12,"fontWeight":"bold","color":"#ffffff"},"encoding":{"x":{"datum":5.724113},"y":{"datum":32.43},"text":{"field":"ref_level"}}},
   {"mark":{"type":"text","align":"left","baseline":"middle","fontSize":9.8,"color":"#8c8c8c"},"encoding":{"x":{"datum":5.709911},"y":{"datum":32.28},"text":{"field":"scale"}}},
   {"mark":{"type":"text","align":"left","baseline":"middle","fontSize":9.8,"color":"#8c8c8c"},"encoding":{"x":{"datum":5.709911},"y":{"datum":29.63},"text":{"field":"log"}}},
   {"mark":{"type":"text","align":"right","baseline":"middle","fontSize":15,"fontWeight":"bold","color":"#2bef2b"},"encoding":{"x":{"datum":5.835},"y":{"datum":38.35},"text":{"field":"mkr_freq"}}},
   {"mark":{"type":"text","align":"right","baseline":"middle","fontSize":15,"fontWeight":"bold","color":"#2bef2b"},"encoding":{"x":{"datum":5.835},"y":{"datum":33.37},"text":{"field":"mkr_level"}}},
   {"mark":{"type":"text","align":"left","baseline":"middle","fontSize":11.5,"fontWeight":"bold","color":"#ffffff"},"encoding":{"x":{"datum":5.709438},"y":{"datum":-72.86},"text":{"field":"center"}}},
   {"mark":{"type":"text","align":"left","baseline":"middle","fontSize":11.5,"fontWeight":"bold","color":"#ffffff"},"encoding":{"x":{"datum":5.709438},"y":{"datum":-76.86},"text":{"field":"rbw"}}},
   {"mark":{"type":"text","align":"left","baseline":"middle","fontSize":11.5,"fontWeight":"bold","color":"#ffffff"},"encoding":{"x":{"datum":5.755119},"y":{"datum":-76.86},"text":{"field":"vbw"}}},
   {"mark":{"type":"text","align":"right","baseline":"middle","fontSize":11.5,"fontWeight":"bold","color":"#ffffff"},"encoding":{"x":{"datum":5.834764},"y":{"datum":-72.86},"text":{"field":"span"}}},
   {"mark":{"type":"text","align":"right","baseline":"middle","fontSize":11.5,"fontWeight":"bold","color":"#ffffff"},"encoding":{"x":{"datum":5.834764},"y":{"datum":-76.86},"text":{"field":"sweep"}}},
   {"mark":{"type":"text","align":"left","baseline":"middle","fontSize":6,"color":"#777777"},"encoding":{"x":{"datum":5.709438},"y":{"datum":-82.21},"text":{"value":"MSG"}}},
   {"mark":{"type":"point","shape":"circle","size":30,"filled":true,"color":"#d02020","opacity":1},"encoding":{"x":{"datum":5.802929},"y":{"datum":-82.21}}},
   {"mark":{"type":"text","align":"left","baseline":"middle","fontSize":6,"color":"#777777"},"encoding":{"x":{"datum":5.804823},"y":{"datum":-82.21},"text":{"value":"STATUS"}}}
  ]},
 {"vconcat":[
  {"width":96,"height":15,"data":{"name":"menuR"},"mark":{"type":"rect","fill":{"gradient":"linear","x1":0,"y1":0,"x2":0,"y2":1,"stops":[{"offset":0,"color":"#6ea6ee"},{"offset":0.45,"color":"#3079de"},{"offset":1,"color":"#1a5cc4"}]}}},
  {"width":96,"height":22,"data":{"name":"menuR"},"layer":[
   {"mark":{"type":"rect","fill":{"gradient":"linear","x1":0,"y1":0,"x2":0,"y2":1,"stops":[{"offset":0,"color":"#7497cc"},{"offset":0.2,"color":"#4f79b6"},{"offset":1,"color":"#2f5b98"}]}}},
   {"mark":{"type":"text","color":"#f0f4fa","fontSize":10.5,"baseline":"middle"},"encoding":{"text":{"field":"menu"}}}
  ]},
  {"width":96,"height":406,"data":{"name":"keysR"},
   "encoding":{"y":{"field":"key","type":"nominal","sort":null,"scale":{"paddingInner":0,"paddingOuter":0}}},
   "layer":[
    {"mark":{"type":"rect","fill":{"gradient":"linear","x1":0,"y1":0,"x2":0,"y2":1,"stops":[{"offset":0,"color":"#f4fafd"},{"offset":0.07,"color":"#c4e4f6"},{"offset":0.13,"color":"#95ceee"},{"offset":0.6,"color":"#86c4ea"},{"offset":0.74,"color":"#6aafe0"},{"offset":0.86,"color":"#3f80c2"},{"offset":0.94,"color":"#22579b"},{"offset":1,"color":"#1b4886"}]}},"encoding":{"x":{"datum":0,"type":"quantitative","scale":{"domain":[0,1],"nice":false,"zero":false}},"x2":{"datum":1}}},
    {"mark":{"type":"text","align":"right","baseline":"middle","fontWeight":"bold","fontSize":11,"color":"#16233d","dx":-3,"dy":-1},"encoding":{"x":{"datum":1,"type":"quantitative"},"text":{"condition":{"test":"!datum.sub","field":"key"},"value":""}}},
    {"mark":{"type":"text","align":"right","baseline":"middle","fontWeight":"bold","fontSize":11,"color":"#16233d","dx":-3,"dy":-8.5},"encoding":{"x":{"datum":1,"type":"quantitative"},"text":{"condition":{"test":"datum.sub && !datum.opt","field":"key"},"value":""}}},
    {"mark":{"type":"text","align":"right","baseline":"middle","fontSize":9.3,"color":"#1b2b48","dx":-3,"dy":7},"encoding":{"x":{"datum":1,"type":"quantitative"},"text":{"condition":{"test":"datum.sub && !datum.opt","field":"sub"},"value":""}}},
    {"mark":{"type":"text","align":"right","baseline":"middle","fontWeight":"bold","fontSize":11,"color":"#16233d","dx":-3,"dy":-13},"encoding":{"x":{"datum":1,"type":"quantitative"},"text":{"condition":{"test":"datum.opt","field":"key"},"value":""}}},
    {"mark":{"type":"text","align":"right","baseline":"middle","fontSize":9.3,"color":"#1b2b48","dx":-3,"dy":-2},"encoding":{"x":{"datum":1,"type":"quantitative"},"text":{"condition":{"test":"datum.opt","field":"sub"},"value":""}}},
    {"mark":{"type":"text","align":"left","baseline":"middle","fontSize":9.3,"color":"#1b3f7a","dx":12,"dy":11},"encoding":{"x":{"datum":0,"type":"quantitative"},"text":{"condition":{"test":"datum.opt","field":"opt"},"value":""}}},
    {"mark":{"type":"text","align":"right","baseline":"middle","fontSize":9.3,"color":"#1b2b48","dx":-3,"dy":11},"encoding":{"x":{"datum":1,"type":"quantitative"},"text":{"condition":{"test":"datum.opt","field":"opt2"},"value":""}}}
   ]},
  {"width":96,"height":23,"data":{"name":"menuR"},"mark":{"type":"rect","fill":{"gradient":"linear","x1":0,"y1":0,"x2":0,"y2":1,"stops":[{"offset":0,"color":"#163a6e"},{"offset":0.26,"color":"#163a6e"},{"offset":0.27,"color":"#e4e4ea"},{"offset":1,"color":"#e4e4ea"}]}}}
 ],"spacing":0,"bounds":"flush"},
 {"width":12,"height":466,"data":{"values":[{"border":"margin"}]},"mark":{"type":"rect","fill":"#ffffff"}},
 {"width":2,"height":466,"data":{"values":[{"border":"table"}]},"mark":{"type":"rect","fill":"#000000"}}
],"spacing":0,"bounds":"full"}
]
}
